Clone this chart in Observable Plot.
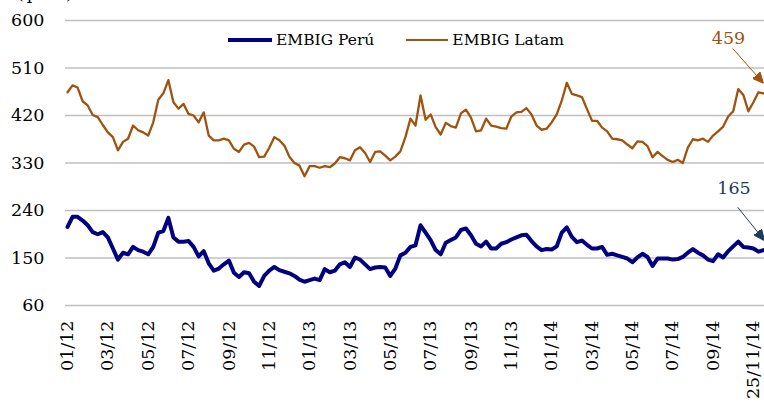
<!DOCTYPE html>
<html><head><meta charset="utf-8">
<script src="https://cdn.jsdelivr.net/npm/d3@7"></script>
<script src="https://cdn.jsdelivr.net/npm/@observablehq/plot@0.6"></script>
<style>
body{margin:0;background:#fff;}
#wrap{position:relative;width:764px;height:411px;overflow:hidden;font-family:"DejaVu Serif",serif;color:#000;}
#unit{position:absolute;left:17px;top:-15px;font-size:17px;letter-spacing:3px;line-height:1;}
#legend{position:absolute;top:30px;left:228px;display:flex;align-items:center;font-size:15.5px;line-height:20px;white-space:nowrap;}
#legend .sw{display:inline-block;margin-right:4px;}
#legend .item{display:flex;align-items:center;}
</style></head><body>
<div id="wrap"><div id="unit">(pbs)</div><div id="legend"></div></div>
<script>
// x tick labels (every 8 samples, weekly-ish sampling)
const tickLabels = ["01/12","03/12","05/12","07/12","09/12","11/12","01/13","03/13","05/13","07/13","09/13","11/13","01/14","03/14","05/14","07/14","09/14","25/11/14"];
const tickIndex = [0,8,16,24,32,40,48,56,64,72,80,88,96,104,112,120,128,136];
const yTicks = [60,150,240,330,420,510,600];

const seriesNames = ["EMBIG Perú","EMBIG Latam"];
const seriesColors = ["#000080","#a0520f"];
const endLabels = ["165","459"];
const endLabelColors = ["#1f3a5f","#a0520f"];

const peru = [
209,228,228,221,212,199,195,199,189,168,147,160,157,171,165,162,157,171,198,201,
226,189,181,181,182,171,153,163,140,126,130,138,145,122,114,
123,121,105,97,116,126,133,127,124,121,116,109,105,108,111,108,129,123,126,138,
142,133,151,147,138,129,132,133,132,116,130,155,160,171,174,
212,198,184,165,157,179,184,189,203,206,193,177,172,181,168,168,177,180,185,189,
193,194,182,172,165,167,166,172,198,208,190,180,183,175,
168,168,171,156,158,155,152,149,142,151,158,152,135,149,149,149,147,148,152,160,
167,160,155,147,144,157,151,163,172,181,171,170,168,162,165];

const latam = [
464,477,473,447,439,421,417,402,388,379,354,370,376,401,392,388,382,407,450,462,
487,445,433,442,423,420,407,426,382,373,373,376,373,357,351,
365,368,361,341,342,359,379,373,363,342,330,325,305,324,324,321,324,322,329,341,
339,335,354,360,349,332,351,352,344,335,342,352,379,414,401,
458,412,422,398,384,406,400,397,424,431,416,390,392,414,401,399,396,395,418,426,
427,434,422,401,393,395,407,422,448,482,461,458,455,432,
410,410,397,390,376,375,373,365,358,371,370,362,341,351,343,336,332,336,330,359,
375,373,376,370,382,390,399,418,428,470,459,428,445,464,462];

const labelOf = new Map(tickIndex.map((d,i)=>[d, tickLabels[i]]));
const series = [peru, latam];
const rows = series.map((arr,s)=>arr.map((v,i)=>({i, v, s})));
const ends = series.map((arr,s)=>({s, i: arr.length-1, v: arr[arr.length-1], label: endLabels[s]}));

function solidArrow(color) {
  const ns = "http://www.w3.org/2000/svg";
  const m = document.createElementNS(ns, "marker");
  m.setAttribute("viewBox", "-11 -5 11 10");
  m.setAttribute("markerWidth", "11");
  m.setAttribute("markerHeight", "10");
  m.setAttribute("markerUnits", "userSpaceOnUse");
  m.setAttribute("orient", "auto");
  m.setAttribute("refX", "0");
  m.setAttribute("refY", "0");
  const p = document.createElementNS(ns, "path");
  p.setAttribute("d", "M-11,-5L0,0L-11,5Z");
  p.setAttribute("fill", color);
  m.appendChild(p);
  return m;
}

// arrow tails/tips, expressed relative to the last data point (data units)
const arrowDefs = [
  {s:0, dxTail:-5.1, dyTail:81, dxTip:0.2, dyTip:18},
  {s:1, dxTail:-6.1, dyTail:85, dxTip:0, dyTip:19}
];
const arrows = arrowDefs.map(a => {
  const e = ends[a.s];
  return {s:a.s, x1:e.i+a.dxTail, y1:e.v+a.dyTail, x2:e.i+a.dxTip, y2:e.v+a.dyTip};
});
const textOffsets = [{dx:-29.5, dy:-62},{dx:-35, dy:-55}];

const plot = Plot.plot({
  width: 764, height: 411,
  marginLeft: 65, marginRight: 0, marginTop: 20, marginBottom: 106,
  style: {fontFamily:"DejaVu Serif, serif", fontSize:"17.5px", color:"#000", background:"transparent", overflow:"visible"},
  x: {type:"linear", domain:[-0.4, 138.2]},
  y: {domain:[60, 600]},
  marks: [
    Plot.ruleY(yTicks, {stroke:"#c0c0c0", strokeWidth:1.5}),
    Plot.axisY(yTicks, {tickSize:0, tickPadding:21, label:null}),
    Plot.axisX(tickIndex, {tickSize:0, tickPadding:15, tickRotate:-90, label:null, tickFormat: d => labelOf.get(d)}),
    Plot.line(rows[1], {x:"i", y:"v", stroke:seriesColors[1], strokeWidth:2.3, curve:"linear"}),
    Plot.line(rows[0], {x:"i", y:"v", stroke:seriesColors[0], strokeWidth:4, curve:"linear"}),
    ...arrows.map(a => Plot.link([a], {x1:"x1", y1:"y1", x2:"x2", y2:"y2", stroke:endLabelColors[a.s], strokeWidth:1, markerEnd: solidArrow})),
    ...ends.map(e => Plot.text([e], {x:"i", y:"v", text:"label", fill:endLabelColors[e.s], fontSize:17.5, dx:textOffsets[e.s].dx, dy:textOffsets[e.s].dy}))
  ]
});
const wrap = document.getElementById("wrap");
wrap.insertBefore(plot, wrap.firstChild);
plot.style.position = "absolute"; plot.style.left = "0"; plot.style.top = "0";

const legend = document.getElementById("legend");
const swW = [44, 42], swH = [4, 2.5];
seriesNames.forEach((n, s) => {
  const it = document.createElement("div");
  it.className = "item";
  if (s > 0) it.style.marginLeft = "32px";
  const sw = document.createElement("span");
  sw.className = "sw";
  sw.style.width = swW[s] + "px"; sw.style.height = swH[s] + "px"; sw.style.background = seriesColors[s];
  const tx = document.createElement("span");
  tx.textContent = n;
  it.appendChild(sw); it.appendChild(tx);
  legend.appendChild(it);
});
</script>
</body></html>
